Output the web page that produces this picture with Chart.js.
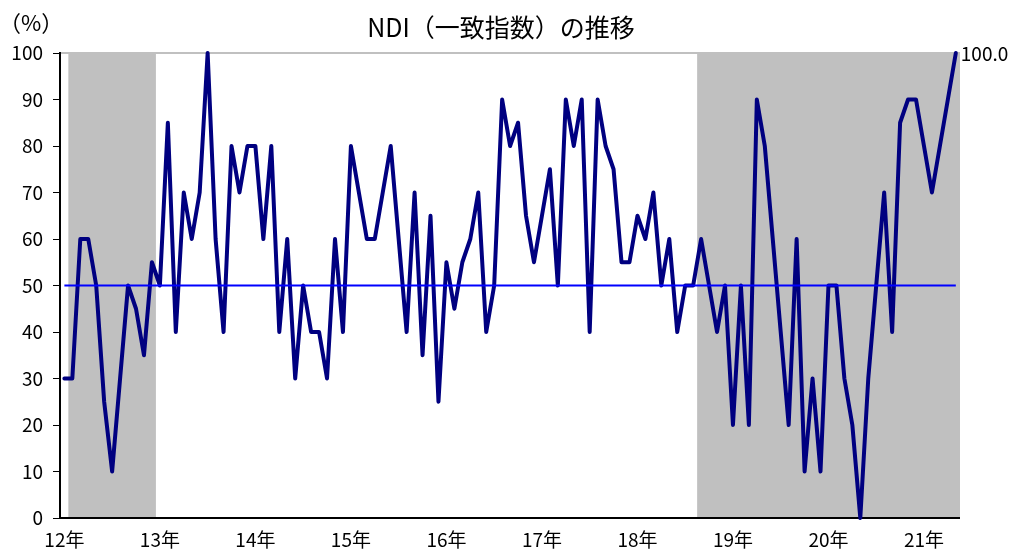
<!DOCTYPE html>
<html lang="ja">
<head>
<meta charset="utf-8">
<script src="https://cdn.jsdelivr.net/npm/chart.js@4/dist/chart.umd.min.js"></script>
<style>
  html, body { margin: 0; padding: 0; background: #fff; }
  #wrap { width: 1012px; height: 551px; }
</style>
</head>
<body>
<div id="wrap"><canvas id="ndiChart" width="1012" height="551"></canvas></div>
<script>
// NDI (coincident index), monthly, Jan 2012 - May 2021
const ndi = [
  30, 30, 60, 60, 50, 25, 10, 30, 50, 45, 35, 55,   // 12
  50, 85, 40, 70, 60, 70, 100, 60, 40, 80, 70, 80,  // 13
  80, 60, 80, 40, 60, 30, 50, 40, 40, 30, 60, 40,   // 14
  80, 70, 60, 60, 70, 80, 60, 40, 70, 35, 65, 25,   // 15
  55, 45, 55, 60, 70, 40, 50, 90, 80, 85, 65, 55,   // 16
  65, 75, 50, 90, 80, 90, 40, 90, 80, 75, 55, 55,   // 17
  65, 60, 70, 50, 60, 40, 50, 50, 60, 50, 40, 50,   // 18
  20, 50, 20, 90, 80, 60, 40, 20, 60, 10, 30, 10,   // 19
  50, 50, 30, 20, 0, 30, 50, 70, 40, 85, 90, 90,    // 20
  80, 70, 80, 90, 100                               // 21
];
const yearLabels = ["12年", "13年", "14年", "15年", "16年", "17年", "18年", "19年", "20年", "21年"];
const baseLine = 50;
// shaded periods, in month index (0 = Jan 2012)
const shaded = [[0.5, 11.5], [79.5, 113]];

const font = '"Noto Sans CJK JP", "Noto Sans", sans-serif';
Chart.defaults.font.family = font;
Chart.defaults.font.size = 19;
Chart.defaults.color = "#000";

// shading, frame, title and end label
const decor = {
  id: "decor",
  beforeDraw(chart) {
    const { ctx, chartArea: a, scales: { x } } = chart;
    ctx.save();
    ctx.fillStyle = "#C0C0C0";
    shaded.forEach(([s, e]) => {
      const x0 = Math.max(x.getPixelForValue(s), a.left);
      const x1 = Math.min(x.getPixelForValue(e), a.right);
      ctx.fillRect(x0, a.top, x1 - x0, a.bottom - a.top);
    });
    ctx.strokeStyle = "#C0C0C0";
    ctx.lineWidth = 2;
    ctx.beginPath();
    ctx.moveTo(a.left, a.top);
    ctx.lineTo(a.right, a.top);
    ctx.lineTo(a.right, a.bottom);
    ctx.stroke();
    ctx.restore();
  },
  afterDraw(chart) {
    const { ctx } = chart;
    ctx.save();
    ctx.fillStyle = "#000";
    ctx.textBaseline = "middle";
    ctx.font = "25px " + font;
    ctx.textAlign = "center";
    ctx.fillText("NDI（一致指数）の推移", 501, 27);
    ctx.font = "22px " + font;
    ctx.textAlign = "left";
    ctx.fillText("（%）", -1, 23);
    // value of the last month
    ctx.font = "19px " + font;
    const meta = chart.getDatasetMeta(1);
    const last = meta.data[meta.data.length - 1];
    ctx.fillText(ndi[ndi.length - 1].toFixed(1), last.x + 5, last.y + 1);
    ctx.restore();
  }
};

new Chart(document.getElementById("ndiChart"), {
  type: "line",
  data: {
    datasets: [
      {
        label: "50",
        data: ndi.map((v, i) => ({ x: i, y: baseLine })),
        borderColor: "#0000FF",
        borderWidth: 2,
        pointRadius: 0,
        order: 0
      },
      {
        label: "NDI",
        data: ndi.map((v, i) => ({ x: i, y: v })),
        borderColor: "#000080",
        borderWidth: 4,
        borderJoinStyle: "round",
        borderCapStyle: "round",
        pointRadius: 0,
        tension: 0,
        order: 1,
        clip: 4
      }
    ]
  },
  options: {
    responsive: false,
    animation: false,
    events: [],
    layout: { padding: { top: 53, right: 53, left: 0, bottom: 0 } },
    plugins: { legend: { display: false }, tooltip: { enabled: false } },
    scales: {
      x: {
        type: "linear",
        min: -0.55,
        max: 112.4,
        afterBuildTicks(axis) {
          axis.ticks = yearLabels.map((_, i) => ({ value: i * 12 }));
        },
        afterFit(axis) { axis.height = 33; },
        ticks: {
          autoSkip: false,
          maxRotation: 0,
          padding: 2,
          callback: (v) => yearLabels[v / 12]
        },
        grid: { display: false },
        border: { color: "#000", width: 2 }
      },
      y: {
        min: 0,
        max: 100,
        afterFit(axis) { axis.width = 60; },
        ticks: { stepSize: 10, padding: 10 },
        grid: { drawOnChartArea: false, tickLength: 7, color: "#000", tickWidth: 1 },
        border: { color: "#000", width: 2 }
      }
    }
  },
  plugins: [decor]
});
</script>
</body>
</html>
